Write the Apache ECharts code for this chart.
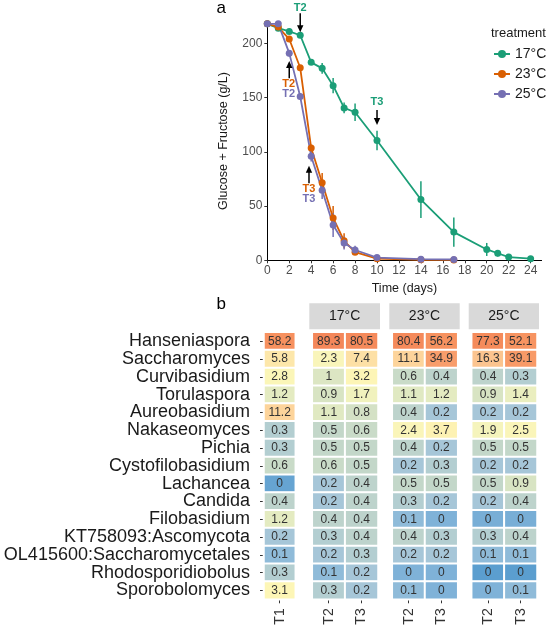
<!DOCTYPE html>
<html>
<head>
<meta charset="utf-8">
<script src="https://cdn.jsdelivr.net/npm/echarts@6/dist/echarts.min.js"></script>
<style>
  html, body { margin: 0; padding: 0; background: #fff; }
  #main { width: 550px; height: 635px; }
</style>
</head>
<body>
<div id="main"></div>
<script>
// ---- panel a: sugar consumption ----
const treatments = ["17°C", "23°C", "25°C"];
const lineColors = ["#1b9e77", "#d95f02", "#7570b3"];

const days17 = [0, 1, 2, 3, 4, 5, 6, 7, 8, 10, 14, 17, 20, 21, 22, 24];
const sugar17 = [218, 214, 211, 207.5, 182.5, 177, 161, 140.5, 136.5, 110.5, 56, 26, 10, 6.5, 3, 1.5];
const sd17 = [0, 1, 1, 1, 2, 5, 7, 5, 8, 9, 17, 13.5, 6, 3, 2, 1];

const days23 = [0, 1, 2, 3, 4, 5, 6, 7, 8, 10, 14, 17];
const sugar23 = [218, 215, 204, 177.5, 103.5, 71.5, 39, 18, 7.5, 1.5, 0.5, 0.3];
const sd23 = [0, 1, 2, 2, 3, 9, 11, 7, 2, 1, 0, 0];

const days25 = [0, 1, 2, 3, 4, 5, 6, 7, 8, 10, 14, 17];
const sugar25 = [218, 218, 191, 151, 96, 64.5, 32.5, 16, 9.5, 2.5, 1, 0.8];
const sd25 = [0, 1, 3, 3, 5, 8, 11, 6, 4, 1, 0, 0];

const tickValuesX = [0, 2, 4, 6, 8, 10, 12, 14, 16, 18, 20, 22, 24];
const tickValuesY = [0, 50, 100, 150, 200];

// sampling arrows (x, from, to) and their labels
const arrowX = [3, 10, 2, 3.8];
const arrowFrom = [227.8, 138.5, 167.8, 71];
const arrowTo = [210.2, 124.8, 183.8, 87.2];
const annoX = [3, 10, 1.95, 1.95, 3.8, 3.8];
const annoY = [232.4, 146.2, 162.6, 153.6, 65.5, 56.5];
const annoText = ["T2", "T3", "T2", "T2", "T3", "T3"];
const annoGroup = [0, 0, 1, 2, 1, 2];

// ---- panel b: relative abundance heatmap ----
const taxa = ["Hanseniaspora", "Saccharomyces", "Curvibasidium", "Torulaspora", "Aureobasidium",
  "Nakaseomyces", "Pichia", "Cystofilobasidium", "Lachancea", "Candida", "Filobasidium",
  "KT758093:Ascomycota", "OL415600:Saccharomycetales", "Rhodosporidiobolus", "Sporobolomyces"];
const strips = ["17°C", "23°C", "25°C"];
const t1 = [58.2, 5.8, 2.8, 1.2, 11.2, 0.3, 0.3, 0.6, 0.01, 0.4, 1.2, 0.2, 0.1, 0.3, 3.1];
const t17T2 = [89.3, 2.3, 1, 0.9, 1.1, 0.5, 0.5, 0.6, 0.2, 0.2, 0.4, 0.3, 0.2, 0.1, 0.3];
const t17T3 = [80.5, 7.4, 3.2, 1.7, 0.8, 0.6, 0.5, 0.5, 0.4, 0.4, 0.4, 0.4, 0.3, 0.2, 0.2];
const t23T2 = [80.4, 11.1, 0.6, 1.1, 0.4, 2.4, 0.4, 0.2, 0.5, 0.3, 0.1, 0.4, 0.2, 0.04, 0.1];
const t23T3 = [56.2, 34.9, 0.4, 1.2, 0.2, 3.7, 0.2, 0.3, 0.5, 0.2, 0.04, 0.3, 0.2, 0.04, 0.04];
const t25T2 = [77.3, 16.3, 0.4, 0.9, 0.2, 1.9, 0.5, 0.2, 0.5, 0.2, 0.03, 0.3, 0.1, 0, 0.04];
const t25T3 = [52.1, 39.1, 0.3, 1.4, 0.2, 2.5, 0.5, 0.2, 0.9, 0.4, 0.03, 0.4, 0.1, 0, 0.1];

// colour ramp on log10(value + 0.05)
const rampStops = [
  [-1.30, "#5b9ecf"], [-1.05, "#7fb2d8"], [-0.82, "#8fbbd9"], [-0.60, "#a6c6d8"],
  [-0.35, "#bdd3cc"], [-0.20, "#c8dac8"], [0.00, "#dae5c3"], [0.12, "#e6ecc0"],
  [0.30, "#f6f4bc"], [0.50, "#fdf6b6"], [0.77, "#fde7aa"], [1.05, "#fdd49b"],
  [1.21, "#fbc58f"], [1.55, "#f89c6a"], [1.75, "#f7925f"], [1.95, "#f4875a"]
];
const tMin = -1.3, tMax = 1.95;

function hexToRgb(h) { return [1, 3, 5].map(i => parseInt(h.substr(i, 2), 16)); }
function rampAt(t) {
  for (let i = 1; i < rampStops.length; i++) {
    if (t <= rampStops[i][0]) {
      const a = rampStops[i - 1], b = rampStops[i];
      const f = (t - a[0]) / (b[0] - a[0]);
      const ca = hexToRgb(a[1]), cb = hexToRgb(b[1]);
      return "rgb(" + ca.map((c, k) => Math.round(c + (cb[k] - c) * f)).join(",") + ")";
    }
  }
  return rampStops[rampStops.length - 1][1];
}
const rampColors = [];
for (let i = 0; i <= 65; i++) rampColors.push(rampAt(tMin + (tMax - tMin) * i / 65));

const font = "'Liberation Sans', Arial, sans-serif";

// layout of heatmap panels
const hmTop = 332.3, hmHeight = 267;
const hmLeft = [264, 312.3, 392.3, 471.7];
const hmWidth = [31.3, 65.7, 65.4, 65.3];
const hmCols = [["T1"], ["T2", "T3"], ["T2", "T3"], ["T2", "T3"]];
const hmValues = [[t1], [t17T2, t17T3], [t23T2, t23T3], [t25T2, t25T3]];

function hmData(cols) {
  const out = [];
  cols.forEach((col, ci) => col.forEach((v, ri) => out.push([ci, ri, v, Math.log10(v + 0.05)])));
  return out;
}

const chart = echarts.init(document.getElementById("main"), null, { renderer: "canvas" });

const grids = [{ left: 267.3, top: 21.7, width: 274.3, height: 238.6 }];
hmLeft.forEach((l, i) => grids.push({ left: l, top: hmTop, width: hmWidth[i], height: hmHeight }));

const xAxes = [{
  type: "value", gridIndex: 0, min: 0, max: 25,
  name: "Time (days)", nameLocation: "middle", nameGap: 22,
  nameTextStyle: { fontFamily: font, fontSize: 12.5, color: "#1a1a1a" },
  axisLine: { lineStyle: { color: "#000", width: 1 } },
  axisTick: { length: 3, lineStyle: { color: "#333" }, customValues: tickValuesX },
  axisLabel: { fontFamily: font, fontSize: 12, color: "#4d4d4d", margin: 4, customValues: tickValuesX },
  splitLine: { show: false }
}];
const yAxes = [{
  type: "value", gridIndex: 0, min: 0, max: 220,
  name: "Glucose + Fructose (g/L)", nameLocation: "middle", nameGap: 37,
  nameTextStyle: { fontFamily: font, fontSize: 12.5, color: "#1a1a1a" },
  axisLine: { show: true, lineStyle: { color: "#000", width: 1 } },
  axisTick: { show: true, length: 3, lineStyle: { color: "#333" }, customValues: tickValuesY },
  axisLabel: { fontFamily: font, fontSize: 12, color: "#4d4d4d", margin: 5, customValues: tickValuesY },
  splitLine: { show: false }
}];
hmCols.forEach((cols, i) => {
  xAxes.push({
    type: "category", gridIndex: i + 1, data: cols, position: "bottom",
    axisLine: { show: false },
    axisTick: { show: true, alignWithLabel: true, length: 4, lineStyle: { color: "#333" } },
    axisLabel: { rotate: 90, margin: 9, interval: 0, fontFamily: font, fontSize: 14, color: "#333" },
    splitLine: { show: false }
  });
  yAxes.push({
    type: "category", gridIndex: i + 1, data: taxa, inverse: true,
    axisLine: { show: false },
    axisTick: { show: i === 0, alignWithLabel: true, interval: 0, length: 4, lineStyle: { color: "#333" } },
    axisLabel: { show: i === 0, interval: 0, margin: 14, fontFamily: font, fontSize: 18, color: "#1a1a1a" },
    splitLine: { show: false }
  });
});

const lineSets = [[days17, sugar17, sd17], [days23, sugar23, sd23], [days25, sugar25, sd25]];
const series = [];
lineSets.forEach((set, k) => {
  const [d, s, e] = set;
  // error bars (unnamed so the legend picks the line series)
  series.push({
    type: "custom", xAxisIndex: 0, yAxisIndex: 0, clip: false, z: 2, silent: true,
    data: d.map((x, i) => [x, s[i] - e[i], s[i] + e[i]]),
    renderItem: (params, api) => {
      const p0 = api.coord([api.value(0), api.value(1)]);
      const p1 = api.coord([api.value(0), api.value(2)]);
      return { type: "line", shape: { x1: p0[0], y1: p0[1], x2: p1[0], y2: p1[1] },
        style: { stroke: lineColors[k], lineWidth: 1.5 } };
    }
  });
  series.push({
    type: "line", name: treatments[k], xAxisIndex: 0, yAxisIndex: 0, z: 3,
    data: d.map((x, i) => [x, s[i]]),
    symbol: "circle", symbolSize: 7, showSymbol: true,
    lineStyle: { color: lineColors[k], width: 1.8 },
    itemStyle: { color: lineColors[k] },
    emphasis: { disabled: true }
  });
});

// arrows
series.push({
  type: "custom", xAxisIndex: 0, yAxisIndex: 0, clip: false, z: 5, silent: true,
  data: arrowX.map((x, i) => [x, arrowFrom[i], arrowTo[i]]),
  renderItem: (params, api) => {
    const p0 = api.coord([api.value(0), api.value(1)]);
    const p1 = api.coord([api.value(0), api.value(2)]);
    const dir = p1[1] > p0[1] ? 1 : -1;
    return {
      type: "group", children: [
        { type: "line", shape: { x1: p0[0], y1: p0[1], x2: p1[0], y2: p1[1] - dir * 5 },
          style: { stroke: "#000", lineWidth: 1.5 } },
        { type: "polygon", shape: { points: [[p1[0], p1[1]], [p1[0] - 3.2, p1[1] - dir * 7], [p1[0] + 3.2, p1[1] - dir * 7]] },
          style: { fill: "#000" } }
      ]
    };
  }
});
// arrow labels
series.push({
  type: "custom", xAxisIndex: 0, yAxisIndex: 0, clip: false, z: 5, silent: true,
  data: annoX.map((x, i) => [x, annoY[i]]),
  renderItem: (params, api) => {
    const p = api.coord([api.value(0), api.value(1)]);
    const i = params.dataIndex;
    return { type: "text", x: p[0], y: p[1],
      style: { text: annoText[i], fill: lineColors[annoGroup[i]], font: "bold 11px " + font,
        textAlign: "center", textVerticalAlign: "middle" } };
  }
});

const hmSeriesIdx = [];
hmValues.forEach((cols, i) => {
  hmSeriesIdx.push(series.length);
  series.push({
    type: "heatmap", xAxisIndex: i + 1, yAxisIndex: i + 1,
    data: hmData(cols),
    itemStyle: { borderColor: "#fff", borderWidth: 2 },
    label: { show: true, fontFamily: font, fontSize: 12, color: "#333",
      formatter: p => String(Number(p.value[2].toFixed(1))) },
    emphasis: { disabled: true }
  });
});

const graphics = [
  { type: "text", left: 216.5, top: 0, style: { text: "a", font: "17px " + font, fill: "#000" } },
  { type: "text", left: 216.5, top: 296, style: { text: "b", font: "17px " + font, fill: "#000" } },
  { type: "text", left: 491, top: 26.5, style: { text: "treatment", font: "13px " + font, fill: "#1a1a1a" } }
];
strips.forEach((s, i) => {
  const l = hmLeft[i + 1] - 3, w = hmWidth[i + 1] + 5;
  graphics.push({ type: "rect", shape: { x: l, y: 303.3, width: w, height: 26 }, style: { fill: "#d9d9d9" } });
  graphics.push({ type: "text", x: l + w / 2, y: 316.3,
    style: { text: s, font: "14px " + font, fill: "#1a1a1a", textAlign: "center", textVerticalAlign: "middle" } });
});

chart.setOption({
  animation: false,
  backgroundColor: "#fff",
  grid: grids,
  xAxis: xAxes,
  yAxis: yAxes,
  legend: {
    data: treatments, orient: "vertical", left: 493, top: 47, padding: 0,
    itemWidth: 16, itemHeight: 10, itemGap: 6,
    textStyle: { fontFamily: font, fontSize: 14, color: "#1a1a1a", lineHeight: 14 }
  },
  visualMap: {
    type: "continuous", show: false, dimension: 3, min: tMin, max: tMax,
    seriesIndex: hmSeriesIdx, inRange: { color: rampColors }
  },
  graphic: graphics,
  series: series
});
</script>
</body>
</html>
